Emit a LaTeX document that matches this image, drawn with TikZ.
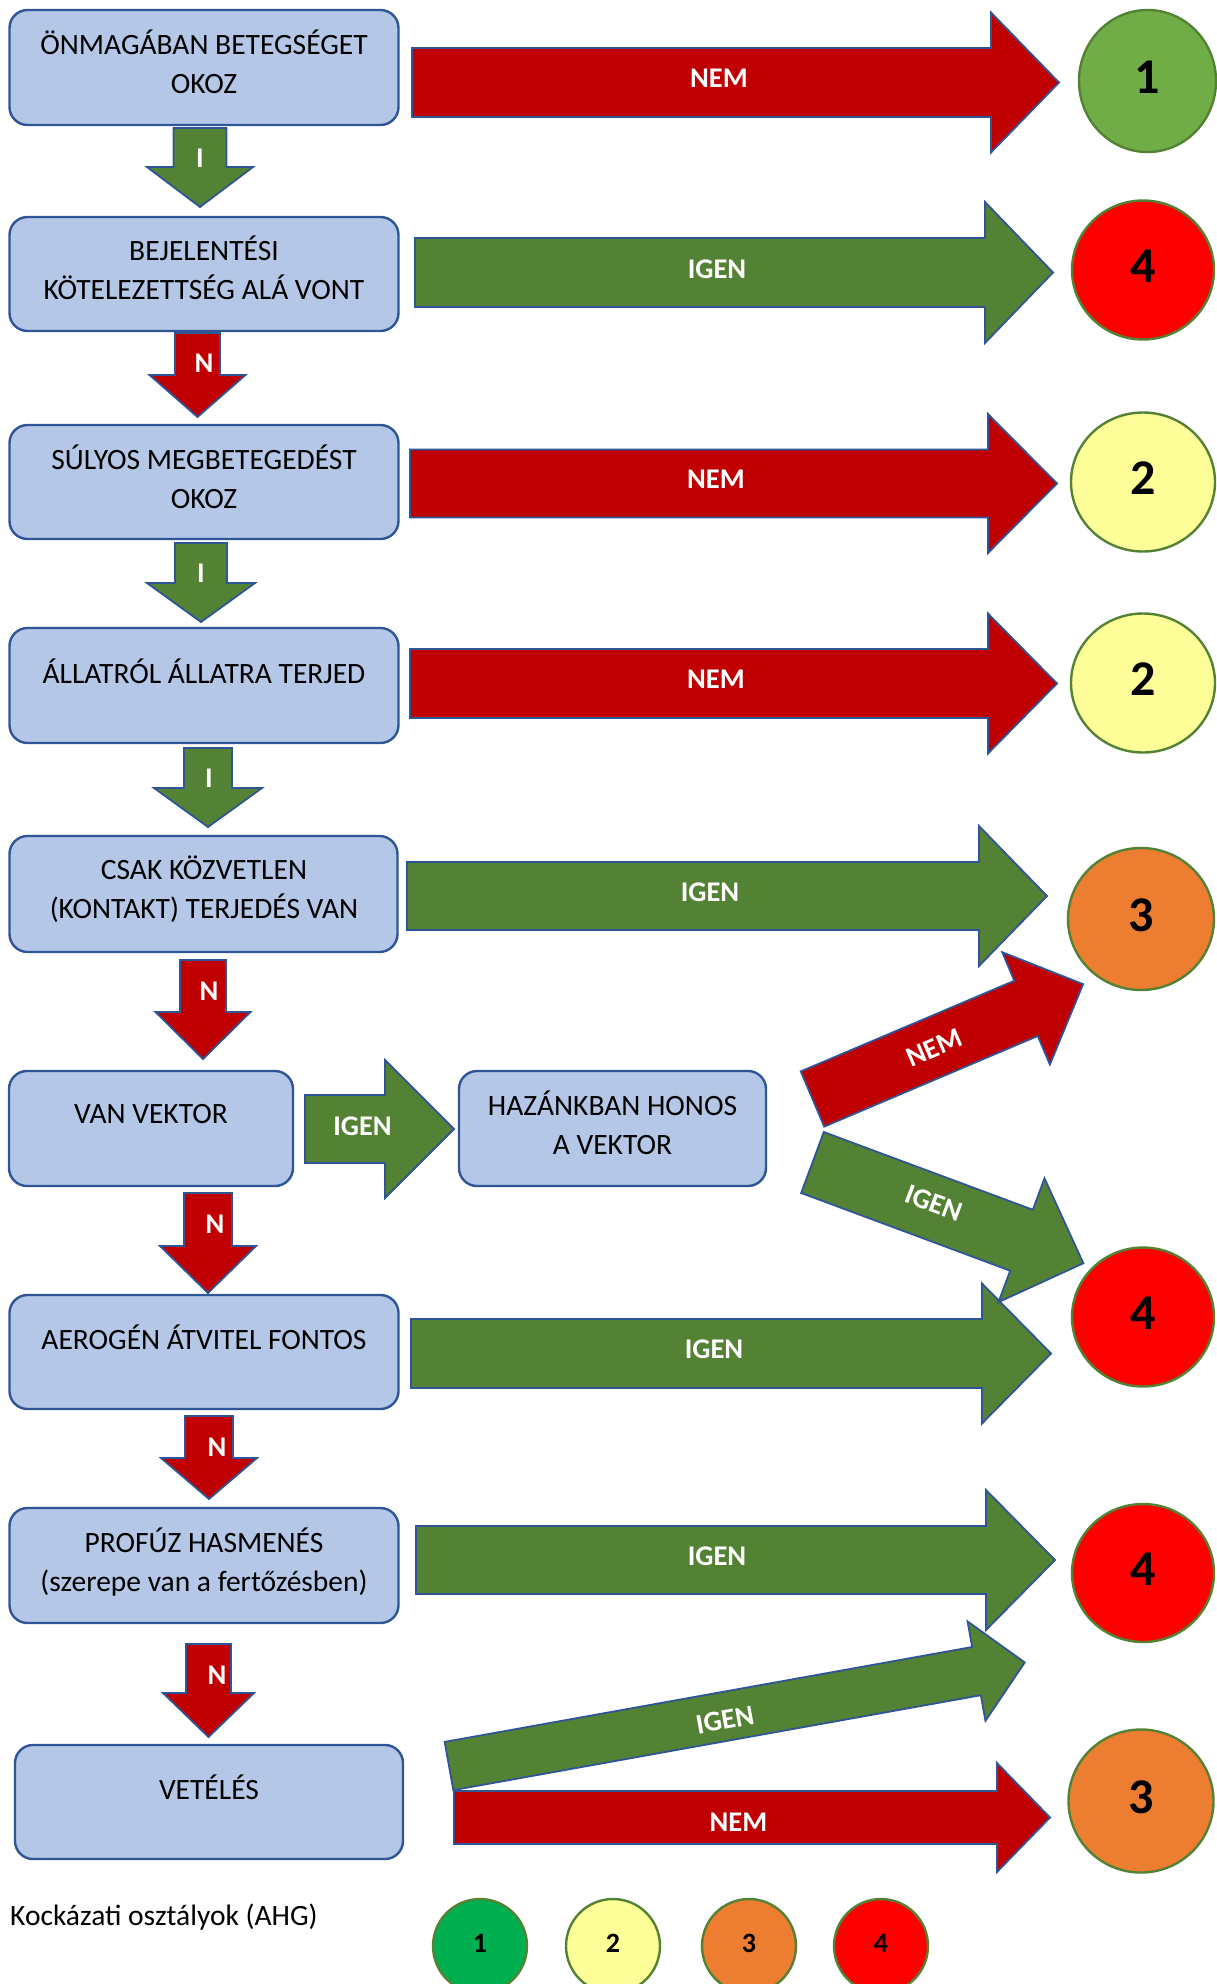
\documentclass[tikz,border=0pt]{standalone}
\usepackage{fontspec}
\setmainfont{Carlito}
\usetikzlibrary{shapes.geometric}
\definecolor{boxfill}{HTML}{B4C7E7}
\definecolor{boxline}{HTML}{2F5597}
\definecolor{redA}{HTML}{C00000}
\definecolor{greenA}{HTML}{548235}
\definecolor{circline}{HTML}{548235}
\definecolor{cgreen}{HTML}{70AD47}
\definecolor{cred}{HTML}{FF0000}
\definecolor{cyellow}{HTML}{FFFF99}
\definecolor{corange}{HTML}{ED7D31}
\definecolor{lgreen}{HTML}{00B050}
\newcommand{\bst}{\rule[-7pt]{0pt}{26pt}}
\tikzset{
  arrowline/.style={draw=boxline, line width=1.8pt, miter limit=10},
  pics/barrow/.style args={#1/#2/#3/#4/#5}{code={
    \path[arrowline, fill=#5] (0,-#2) -- ({#1-#4},-#2) -- ({#1-#4},-#3) -- (#1,0)
      -- ({#1-#4},#3) -- ({#1-#4},#2) -- (0,#2) -- cycle;
  }},
}
\begin{document}
\begin{tikzpicture}[x=1pt,y=-1pt,
  box/.style={draw=boxline, line width=2.4pt, fill=boxfill, rounded corners=18pt, minimum height=115pt, inner sep=0pt},
  boxtext/.style={font=\fontsize{29.5}{39}\selectfont, align=center, inner sep=0pt},
  lbl/.style={font=\fontsize{28.5}{32}\selectfont\bfseries, text=white, inner sep=0pt, text height=18.4pt, text depth=0pt},
  rc/.style={ellipse, draw=circline, line width=2.4pt, inner sep=0pt, font=\fontsize{50}{58}\selectfont\bfseries, text height=32pt, text depth=8pt},
  lc/.style={ellipse, draw=circline, line width=2.4pt, inner sep=0pt, minimum width=94pt, minimum height=94pt, font=\fontsize{28}{32}\selectfont\bfseries, text height=18pt, text depth=5pt},
]
\useasboundingbox (0,0) rectangle (1216,1984);

% boxes
\node[box, minimum width=389pt] (b1) at (204,67.5) {};
\node[box, minimum width=389pt, minimum height=114pt] (b2) at (204,274) {};
\node[box, minimum width=389pt, minimum height=114pt] (b3) at (204,482) {};
\node[box, minimum width=389pt] (b4) at (204,685.5) {};
\node[box, minimum width=388pt, minimum height=116pt] (b5) at (203.5,894) {};
\node[box, minimum width=284pt] (b6) at (151,1128.5) {};
\node[box, minimum width=307pt] (b7) at (612.5,1128.5) {};
\node[box, minimum width=389pt, minimum height=114pt] (b8) at (204,1352) {};
\node[box, minimum width=389pt] (b9) at (204,1565.5) {};
\node[box, minimum width=388pt, minimum height=114pt] (b10) at (209,1802) {};

\node[boxtext] (t1) at (204,65.5) {\bst ÖNMAGÁBAN BETEGSÉGET\\\bst OKOZ};
\node[boxtext] (t2) at (204,271) {\bst BEJELENTÉSI\\\bst KÖTELEZETTSÉG ALÁ VONT};
\node[boxtext] (t3) at (204,480) {\bst SÚLYOS MEGBETEGEDÉST\\\bst OKOZ};
\node[boxtext] (t4) at (204,675) {\bst ÁLLATRÓL ÁLLATRA TERJED};
\node[boxtext] (t5) at (204,891) {\bst CSAK KÖZVETLEN\\\bst (KONTAKT) TERJEDÉS VAN};
\node[boxtext] (t6) at (151,1117) {\bst VAN VEKTOR};
\node[boxtext] (t7) at (612.5,1126) {\bst HAZÁNKBAN HONOS\\\bst A VEKTOR};
\node[boxtext] (t8) at (204,1341) {\bst AEROGÉN ÁTVITEL FONTOS};
\node[boxtext] (t9) at (204,1563) {\bst PROFÚZ HASMENÉS\\\bst (szerepe van a fertőzésben)};
\node[boxtext] (t10) at (209,1791) {\bst VETÉLÉS};

% horizontal block arrows
\pic at (412,82.5) {barrow=647/34.5/70/68/redA};
\pic at (415,272.5) {barrow=638/34.5/70.5/68/greenA};
\pic at (410,483.5) {barrow=647/34/69.5/69/redA};
\pic at (410,683.5) {barrow=647/34.5/70/69/redA};
\pic at (407,896) {barrow=640/34/70/68/greenA};
\pic at (305,1129) {barrow=149/34/69/69/greenA};
\pic at (411,1353.5) {barrow=640/34.5/70/69/greenA};
\pic at (416,1560) {barrow=639/34/70/69/greenA};
\pic at (454,1817.5) {barrow=596/26.5/54.5/53/redA};

% diagonal block arrows
\pic[rotate=23] at (812.5,1099) {barrow=294/30/61/62/redA};
\pic[rotate=-20.4] at (812.5,1162.5) {barrow=289/32.5/66/66/greenA};
\pic[rotate=10.2] at (449,1766) {barrow=585/24.5/50.5/49/greenA};

% down arrows
\pic[rotate=-90] at (200,128) {barrow=79/26.5/53/40/greenA};
\pic[rotate=-90] at (197.5,333) {barrow=84/22.5/48/42/redA};
\pic[rotate=-90] at (201,543) {barrow=79/26/54/39/greenA};
\pic[rotate=-90] at (208,748) {barrow=79/24/54/39/greenA};
\pic[rotate=-90] at (203,960) {barrow=99/23/47.5/47/redA};
\pic[rotate=-90] at (208,1193) {barrow=100/24/48/47/redA};
\pic[rotate=-90] at (209,1416) {barrow=83/24/48/41/redA};
\pic[rotate=-90] at (208.5,1644) {barrow=93/22.5/45.5/44/redA};

% arrow labels
\node[lbl] (l1) at (719,78.5) {NEM};
\node[lbl] (l2) at (717,269) {IGEN};
\node[lbl] (l3) at (716,479.5) {NEM};
\node[lbl] (l4) at (716,679.5) {NEM};
\node[lbl] (l5) at (710,892) {IGEN};
\node[lbl] (l6) at (362.5,1126) {IGEN};
\node[lbl] (l7) at (714,1349) {IGEN};
\node[lbl] (l8) at (717,1556) {IGEN};
\node[lbl] (l9) at (738.5,1822) {NEM};
\node[lbl, rotate=23] (l10) at (934,1048) {NEM};
\node[lbl, rotate=-20.4] (l11) at (934,1203) {IGEN};
\node[lbl, rotate=10.2] (l12) at (725,1720) {IGEN};

\node[lbl] (d1) at (200,158) {I};
\node[lbl] (d2) at (204,363) {N};
\node[lbl] (d3) at (201,573.5) {I};
\node[lbl] (d4) at (209,778.5) {I};
\node[lbl] (d5) at (209,991.5) {N};
\node[lbl] (d6) at (215,1224) {N};
\node[lbl] (d7) at (217,1447) {N};
\node[lbl] (d8) at (217,1675.5) {N};

% risk circles
\node[rc, fill=cgreen, minimum width=137pt, minimum height=142pt] (c1) at (1147.5,81) {1};
\node[rc, fill=cred, minimum width=142pt, minimum height=139pt] (c2) at (1143,270) {4};
\node[rc, fill=cyellow, minimum width=144pt, minimum height=139pt] (c3) at (1143,482) {2};
\node[rc, fill=cyellow, minimum width=144pt, minimum height=139pt] (c4) at (1143,683) {2};
\node[rc, fill=corange, minimum width=146pt, minimum height=142pt] (c5) at (1141,919) {3};
\node[rc, fill=cred, minimum width=142pt, minimum height=139pt] (c6) at (1143,1317) {4};
\node[rc, fill=cred, minimum width=142pt, minimum height=138pt] (c7) at (1143,1573) {4};
\node[rc, fill=corange, minimum width=145pt, minimum height=143pt] (c8) at (1141,1801) {3};

% legend
\node[anchor=base west, font=\fontsize{29.5}{34}\selectfont, inner sep=0pt] (leg) at (10,1925) {Kockázati osztályok (AHG)};
\node[lc, fill=lgreen] (k1) at (480,1946) {1};
\node[lc, fill=cyellow] (k2) at (613,1946) {2};
\node[lc, fill=corange] (k3) at (749,1946) {3};
\node[lc, fill=cred] (k4) at (881,1946) {4};
\end{tikzpicture}
\end{document}
